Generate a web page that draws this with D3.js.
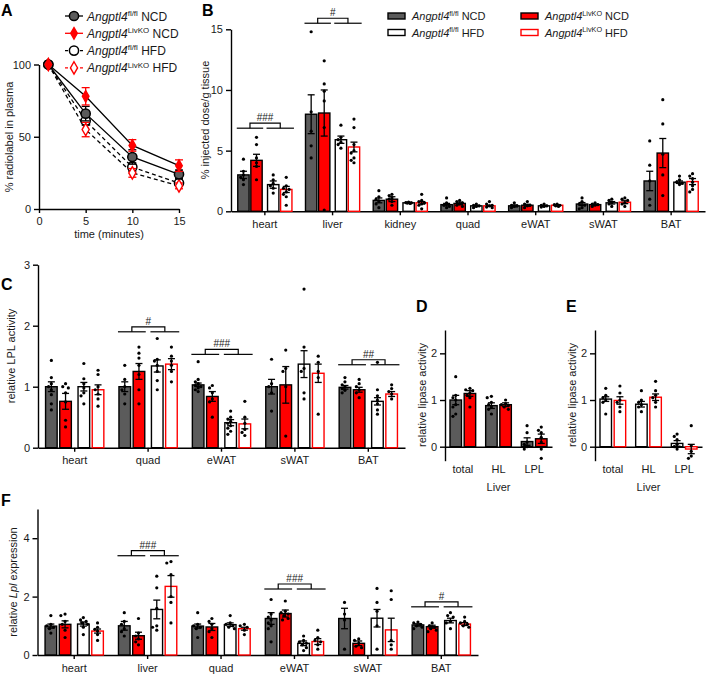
<!DOCTYPE html>
<html>
<head>
<meta charset="utf-8">
<script src="https://cdn.jsdelivr.net/npm/d3@7"></script>
<style>
body { margin: 0; background: #fff; }
</style>
</head>
<body>
<svg id="main" width="708" height="676"></svg>
<script>
const FONT = "Arial, 'Liberation Sans', Helvetica, sans-serif";
const GRAY = "#5b5b5b", RED = "#ff0000";

// ---- panel A: plasma clearance
const aTime = [1, 5, 10, 15];
const aFlNCD = [100, 66, 36, 24];
const aKoNCD = [100, 78, 44, 30];
const aFlHFD = [100, 61, 29, 18];
const aKoHFD = [100, 55, 25, 16];
const aSemFlNCD = [0, 5, 5, 3];
const aSemKoNCD = [0, 6, 4, 4];
const aSemFlHFD = [0, 3, 3, 2];
const aSemKoHFD = [0, 5, 3, 2];

// ---- panel B: tissue uptake (order in each row: fl NCD, KO NCD, fl HFD, KO HFD)
const bCats = ["heart", "liver", "kidney", "quad", "eWAT", "sWAT", "BAT"];
const bMean = [[3.0, 4.2, 2.2, 1.8], [8.0, 8.1, 5.9, 5.3], [0.9, 1.0, 0.7, 0.7], [0.55, 0.65, 0.45, 0.45],
               [0.45, 0.5, 0.45, 0.5], [0.6, 0.55, 0.7, 0.75], [2.5, 4.8, 2.4, 2.45]];
const bSem = [[0.3, 0.5, 0.3, 0.25], [1.6, 1.9, 0.3, 0.4], [0.2, 0.2, 0.05, 0.1], [0.1, 0.1, 0.05, 0.05],
              [0.08, 0.08, 0.05, 0.05], [0.12, 0.05, 0.1, 0.12], [0.8, 1.2, 0.1, 0.25]];
const bDots = [
  [[4.3, 3.3, 3.0, 2.8, 2.6, 2.2], [6.1, 5.5, 4.4, 4.0, 3.7, 2.6], [3.0, 2.6, 2.3, 2.1, 1.9, 1.5], [2.8, 2.1, 1.9, 1.8, 1.6, 1.4, 1.2, 0.5]],
  [[14.8, 8.2, 6.6, 5.4, 4.4], [12.4, 10.5, 9.9, 9.1, 6.9, 0.1], [7.1, 6.1, 5.9, 5.7, 5.5, 5.2], [7.6, 6.9, 5.5, 5.0, 4.8, 4.4, 4.2, 4.0]],
  [[1.7, 1.2, 1.0, 0.8, 0.6, 0.3], [1.4, 1.3, 1.1, 1.0, 0.8, 0.5], [0.75, 0.72, 0.7, 0.68, 0.65], [1.4, 0.9, 0.8, 0.7, 0.6, 0.5, 0.2]],
  [[1.1, 0.7, 0.5, 0.4, 0.3], [0.9, 0.8, 0.7, 0.6, 0.5, 0.4], [0.6, 0.5, 0.45, 0.4, 0.3], [0.8, 0.6, 0.5, 0.45, 0.35, 0.3]],
  [[0.7, 0.5, 0.45, 0.4, 0.3], [0.8, 0.6, 0.5, 0.45, 0.3], [0.6, 0.5, 0.45, 0.4, 0.35], [0.6, 0.55, 0.5, 0.45, 0.4]],
  [[1.1, 0.8, 0.6, 0.5, 0.3, 0.2], [0.7, 0.6, 0.55, 0.5, 0.4], [1.0, 0.9, 0.7, 0.6, 0.4], [1.1, 1.0, 0.9, 0.7, 0.6, 0.4]],
  [[5.8, 3.8, 2.5, 1.0, 0.5], [9.2, 7.2, 4.7, 3.0, 1.3], [2.9, 2.6, 2.4, 2.3, 2.2], [3.1, 2.9, 2.7, 2.4, 2.1, 1.8, 1.6]]
];
const bBrackets = [{cat: "heart", at: 6.85, label: "###"}, {cat: "liver", at: 15.5, label: "#"}];

// ---- panel C: LPL activity
const cCats = ["heart", "quad", "eWAT", "sWAT", "BAT"];
const cMean = [[1.0, 0.76, 1.0, 0.95], [1.0, 1.25, 1.34, 1.37], [1.03, 0.84, 0.41, 0.39], [1.0, 1.03, 1.37, 1.22], [0.99, 0.95, 0.76, 0.88]];
const cSem = [[0.08, 0.13, 0.07, 0.08], [0.08, 0.13, 0.1, 0.09], [0.03, 0.08, 0.05, 0.08], [0.12, 0.3, 0.22, 0.15], [0.03, 0.04, 0.06, 0.04]];
const cDots = [
  [[1.43, 1.15, 1.05, 1.0, 0.95, 0.87, 0.72, 0.62], [1.05, 1.0, 0.98, 0.9, 0.75, 0.45, 0.34], [1.38, 1.13, 1.05, 0.98, 0.9, 0.85, 0.72], [1.27, 1.2, 1.0, 0.95, 0.88, 0.8, 0.68]],
  [[1.35, 1.12, 1.0, 0.95, 0.88, 0.72], [1.65, 1.55, 1.47, 1.35, 1.2, 0.95, 0.72], [1.79, 1.45, 1.42, 1.35, 1.25, 1.1, 0.95], [1.65, 1.5, 1.42, 1.35, 1.25, 1.08]],
  [[1.41, 1.12, 1.08, 1.05, 1.02, 1.0, 0.98, 0.95, 0.92], [1.02, 0.98, 0.9, 0.8, 0.75, 0.5], [0.6, 0.5, 0.47, 0.43, 0.4, 0.36, 0.32, 0.27, 0.22], [0.76, 0.5, 0.4, 0.3, 0.25, 0.2]],
  [[1.45, 1.05, 1.0, 0.9, 0.6], [1.6, 1.3, 1.25, 1.0, 0.19], [2.6, 1.65, 1.3, 1.25, 0.9, 0.8], [1.5, 1.4, 1.25, 1.15, 0.55]],
  [[1.15, 1.08, 1.03, 1.0, 0.97, 0.94, 0.9], [1.12, 1.05, 1.0, 0.95, 0.9, 0.82], [1.4, 0.95, 0.85, 0.78, 0.72, 0.62, 0.55], [1.03, 0.97, 0.92, 0.88, 0.8]]
];
const cBrackets = [{cat: "quad", at: 1.9, label: "#"}, {cat: "eWAT", at: 1.53, label: "###"}, {cat: "BAT", at: 1.36, label: "##"}];

// ---- panels D / E: liver lipase activity
const deCats = ["total", "HL", "LPL"];
const dMean = [[1.0, 1.14], [0.88, 0.9], [0.11, 0.17]];
const dSem = [[0.1, 0.06], [0.06, 0.04], [0.08, 0.1]];
const dDots = [
  [[1.5, 1.1, 1.05, 1.0, 0.9, 0.85, 0.7, 0.65], [1.25, 1.22, 1.2, 1.15, 1.1, 1.05, 0.85]],
  [[1.08, 1.05, 0.95, 0.9, 0.85, 0.8, 0.7], [1.0, 0.92, 0.9, 0.88, 0.85, 0.8]],
  [[0.45, 0.3, 0.1, 0.05, 0.0, -0.05], [0.42, 0.35, 0.3, 0.2, 0.1, -0.05, -0.25]]
];
const eMean = [[1.02, 0.99], [0.91, 1.06], [0.07, -0.05]];
const eSem = [[0.05, 0.08], [0.06, 0.07], [0.06, 0.1]];
const eDots = [
  [[1.25, 1.1, 1.05, 1.0, 0.95, 0.7], [1.3, 1.15, 1.0, 0.95, 0.85, 0.75]],
  [[1.2, 1.0, 0.95, 0.9, 0.85, 0.75], [1.4, 1.2, 1.1, 1.05, 0.95, 0.85]],
  [[0.27, 0.22, 0.15, 0.05, 0.0, -0.05], [0.45, 0.02, -0.1, -0.2, -0.25]]
];

// ---- panel F: Lpl expression
const fCats = ["heart", "liver", "quad", "eWAT", "sWAT", "BAT"];
const fMean = [[0.99, 1.05, 1.06, 0.82], [1.0, 0.66, 1.56, 2.35], [0.99, 0.96, 1.04, 0.9],
               [1.25, 1.42, 0.4, 0.46], [1.25, 0.4, 1.26, 0.86], [1.03, 0.97, 1.18, 1.06]];
const fSem = [[0.07, 0.12, 0.07, 0.07], [0.15, 0.12, 0.32, 0.37], [0.07, 0.12, 0.06, 0.05],
              [0.2, 0.12, 0.08, 0.1], [0.35, 0.08, 0.3, 0.4], [0.04, 0.05, 0.08, 0.05]];
const fDots = [
  [[1.35, 1.05, 1.0, 0.95, 0.9, 0.75], [1.4, 1.35, 1.15, 1.05, 0.85, 0.6], [1.28, 1.2, 1.15, 1.1, 1.05, 0.95, 0.7], [1.1, 0.95, 0.88, 0.82, 0.7, 0.5]],
  [[1.45, 1.15, 1.05, 0.9, 0.8, 0.65], [1.25, 0.75, 0.65, 0.55, 0.45, 0.35], [2.7, 2.3, 1.6, 1.0, 0.95, 0.85], [3.2, 3.15, 2.75, 2.0, 1.8, 1.1]],
  [[1.45, 1.05, 1.0, 0.95, 0.9, 0.6], [1.25, 1.15, 1.05, 0.9, 0.8, 0.6], [1.35, 1.1, 1.05, 1.0, 0.95, 0.9], [1.05, 1.0, 0.95, 0.85, 0.7]],
  [[1.9, 1.4, 1.3, 1.2, 1.1, 1.0, 0.9, 0.45], [1.85, 1.5, 1.45, 1.4, 1.35, 1.25, 1.2], [0.65, 0.5, 0.45, 0.4, 0.35, 0.25, 0.15], [0.85, 0.6, 0.5, 0.45, 0.35, 0.2]],
  [[1.8, 1.4, 1.2, 0.2], [0.55, 0.5, 0.4, 0.3, 0.25], [2.28, 1.8, 1.5, 1.0, 0.2], [2.2, 1.9, 0.5, 0.35, 0.2]],
  [[1.13, 1.1, 1.05, 1.0, 0.95, 0.9], [1.1, 1.0, 0.95, 0.9, 0.85, 0.8], [1.45, 1.35, 1.3, 1.15, 1.1, 0.9], [1.3, 1.15, 1.1, 1.05, 1.0, 0.95]]
];
const fBrackets = [{cat: "liver", at: 3.4, label: "###"}, {cat: "eWAT", at: 2.26, label: "###"}, {cat: "BAT", at: 1.65, label: "#"}];

const seriesStyle = {
  flNCD: {diet: "NCD", geno: "fl", fill: GRAY, stroke: "#000", sup: "fl/fl"},
  koNCD: {diet: "NCD", geno: "ko", fill: RED, stroke: "#000", sup: "LivKO"},
  flHFD: {diet: "HFD", geno: "fl", fill: "#fff", stroke: "#000", sup: "fl/fl"},
  koHFD: {diet: "HFD", geno: "ko", fill: "#fff", stroke: RED, sup: "LivKO"}
};

const svg = d3.select("#main").attr("font-family", FONT);
const intFmt = d3.format("d");

function styleAxis(g) {
  g.attr("font-family", FONT).attr("font-size", 11);
  g.selectAll(".domain, .tick line").attr("stroke", "#000").attr("stroke-width", 1.4);
  g.selectAll("text").attr("fill", "#1a1a1a");
}

function panelLetter(t, x, y) {
  svg.append("text").attr("x", x).attr("y", y).attr("font-size", 16).attr("font-weight", "bold").text(t);
}

function yTitle(x, cy, build) {
  const t = svg.append("text").attr("transform", `translate(${x},${cy}) rotate(-90)`)
    .attr("text-anchor", "middle").attr("font-size", 11).attr("fill", "#1a1a1a");
  build(t);
}

function genoLabel(t, sup, diet, fs) {
  t.append("tspan").attr("font-style", "italic").text("Angptl4");
  t.append("tspan").attr("font-size", fs * 0.66).attr("dy", -fs * 0.4).text(sup);
  t.append("tspan").attr("dy", fs * 0.4).text("\u00a0" + diet);
}

// spreads the dots of one bar sideways so that they overlap less
function swarm(vals, y, maxOff) {
  const placed = [];
  const cands = [0, -2.8, 2.8, -1.4, 1.4, -4.2, 4.2].filter(c => Math.abs(c) <= maxOff);
  return vals.map(v => {
    const py = y(v);
    let best = 0, bestD = -1;
    for (const c of cands) {
      const d = placed.length ? d3.min(placed, p => Math.hypot(p[0] - c, p[1] - py)) : Infinity;
      if (d >= 3.3) { best = c; break; }
      if (d > bestD) { bestD = d; best = c; }
    }
    placed.push([best, py]);
    return best;
  });
}

function barPanel(o) {
  const g = svg.append("g");
  const y = d3.scaleLinear().domain(o.yDomain).range(o.yRange);
  const x = d3.scaleBand().domain(o.cats).range(o.xRange).paddingInner(o.pad).paddingOuter(o.pad / 2);
  const diets = [...new Set(o.series.map(s => seriesStyle[s].diet))];
  const xDiet = d3.scaleBand().domain(diets).range([0, x.bandwidth()]).paddingInner(o.padDiet);
  const xGeno = d3.scaleBand().domain(["fl", "ko"]).range([0, xDiet.bandwidth()]).paddingInner(o.padGeno);
  const bw = xGeno.bandwidth();
  const y0 = y(0);

  const xAxis = d3.axisBottom(x).tickSize(o.xTick).tickSizeOuter(0).tickPadding(o.xPad);
  g.append("g").attr("transform", `translate(0,${y0})`).call(xAxis).call(styleAxis);
  g.append("g").attr("transform", `translate(${o.xRange[0]},0)`)
    .call(d3.axisLeft(y).tickValues(o.yTicks).tickFormat(intFmt).tickSize(5).tickSizeOuter(0).tickPadding(3))
    .call(styleAxis);

  o.cats.forEach((c, i) => {
    o.series.forEach((s, j) => {
      const st = seriesStyle[s];
      const bx = x(c) + xDiet(st.diet) + xGeno(st.geno);
      const cx = bx + bw / 2;
      const m = o.mean[i][j], e = o.sem[i][j];
      g.append("rect")
        .attr("x", bx).attr("y", y(Math.max(0, m)))
        .attr("width", bw).attr("height", Math.abs(y(m) - y0))
        .attr("fill", st.fill).attr("stroke", st.stroke).attr("stroke-width", 1.4);
      const vals = o.dots[i][j];
      const offs = swarm(vals, y, bw / 2 - 1.5);
      g.selectAll(null).data(vals).join("circle")
        .attr("cx", (d, k) => cx + offs[k]).attr("cy", d => y(d))
        .attr("r", 1.6).attr("fill", "#000");
      const cap = 3.5;
      const eb = g.append("g").attr("stroke", "#000").attr("stroke-width", 1.3);
      eb.append("line").attr("x1", cx).attr("x2", cx).attr("y1", y(m - e)).attr("y2", y(m + e));
      [m - e, m + e].forEach(v => eb.append("line")
        .attr("x1", cx - cap).attr("x2", cx + cap).attr("y1", y(v)).attr("y2", y(v)));
    });
  });

  (o.brackets || []).forEach(b => {
    const yl = y(b.at);
    const db = xDiet.bandwidth();
    const lx0 = x(b.cat) + xDiet("NCD") - 1, lx1 = lx0 + db + 2;
    const rx0 = x(b.cat) + xDiet("HFD") - 1, rx1 = rx0 + db + 3;
    const bg = g.append("g").attr("stroke", "#000").attr("stroke-width", 1.2).attr("fill", "none");
    bg.append("line").attr("x1", lx0).attr("x2", lx1).attr("y1", yl).attr("y2", yl);
    bg.append("line").attr("x1", rx0).attr("x2", rx1).attr("y1", yl).attr("y2", yl);
    const cl = (lx0 + lx1) / 2, cr = (rx0 + rx1) / 2;
    bg.append("path").attr("d", `M${cl},${yl}V${yl - 5}H${cr}V${yl}`);
    g.append("text").attr("x", (cl + cr) / 2).attr("y", yl - 7)
      .attr("text-anchor", "middle").attr("font-size", 10).attr("fill", "#1a1a1a").text(b.label);
  });
  return {x, y};
}

// ================= A =================
panelLetter("A", 1, 16);
const xA = d3.scaleLinear().domain([0, 15]).range([39, 179]);
const yA = d3.scaleLinear().domain([0, 100]).range([209, 64.5]);
svg.append("g").attr("transform", "translate(0,209)")
  .call(d3.axisBottom(xA).tickValues([0, 5, 10, 15]).tickFormat(intFmt).tickSize(4).tickSizeOuter(0).tickPadding(4))
  .call(styleAxis);
svg.append("g").attr("transform", "translate(39,0)")
  .call(d3.axisLeft(yA).tickValues([0, 50, 100]).tickFormat(intFmt).tickSize(5).tickSizeOuter(0).tickPadding(3))
  .call(styleAxis);
svg.append("text").attr("x", 109).attr("y", 238).attr("text-anchor", "middle")
  .attr("font-size", 11).attr("fill", "#1a1a1a").text("time (minutes)");
yTitle(13, 137, t => t.text("% radiolabel in plasma"));

const aSeries = [
  {key: "flHFD", v: aFlHFD, e: aSemFlHFD, dash: "4,3", col: "#000", mFill: "#fff", shape: "circle"},
  {key: "koHFD", v: aKoHFD, e: aSemKoHFD, dash: "4,3", col: RED, mFill: "#fff", shape: "diamond"},
  {key: "flNCD", v: aFlNCD, e: aSemFlNCD, dash: null, col: "#000", mFill: GRAY, shape: "circle"},
  {key: "koNCD", v: aKoNCD, e: aSemKoNCD, dash: null, col: RED, mFill: RED, shape: "diamond"}
];
const lineA = d3.line().x(d => xA(d[0])).y(d => yA(d[1]));
function marker(g, s, cx, cy) {
  if (s.shape === "circle") {
    g.append("circle").attr("cx", cx).attr("cy", cy).attr("r", 4.6)
      .attr("fill", s.mFill).attr("stroke", s.col).attr("stroke-width", 1.5);
  } else {
    g.append("path").attr("d", d3.symbol(d3.symbolDiamond, s.mFill === RED ? 38 : 44)())
      .attr("transform", `translate(${cx},${cy})`)
      .attr("fill", s.mFill).attr("stroke", s.col).attr("stroke-width", 1.4);
  }
}
aSeries.forEach(s => {
  svg.append("path").datum(aTime.map((t, i) => [t, s.v[i]])).attr("d", lineA)
    .attr("fill", "none").attr("stroke", "#000").attr("stroke-width", 1.3)
    .attr("stroke-dasharray", s.dash);
});
aSeries.forEach(s => {
  const g = svg.append("g");
  aTime.forEach((t, i) => {
    if (!s.e[i]) return;
    const cx = xA(t);
    const eb = g.append("g").attr("stroke", s.col).attr("stroke-width", 1.3);
    eb.append("line").attr("x1", cx).attr("x2", cx).attr("y1", yA(s.v[i] - s.e[i])).attr("y2", yA(s.v[i] + s.e[i]));
    [s.v[i] - s.e[i], s.v[i] + s.e[i]].forEach(v => eb.append("line")
      .attr("x1", cx - 4).attr("x2", cx + 4).attr("y1", yA(v)).attr("y2", yA(v)));
  });
  aTime.forEach((t, i) => marker(g, s, xA(t), yA(s.v[i])));
});
// legend A
const aLegendOrder = ["flNCD", "koNCD", "flHFD", "koHFD"];
aLegendOrder.forEach((k, i) => {
  const s = aSeries.find(d => d.key === k);
  const ly = 16 + i * 17.3;
  const lg = svg.append("g");
  lg.append("line").attr("x1", 65).attr("x2", 83).attr("y1", ly).attr("y2", ly)
    .attr("stroke", s.col).attr("stroke-width", 1.3).attr("stroke-dasharray", s.dash ? "3,2" : null);
  marker(lg, s, 74, ly);
  const t = lg.append("text").attr("x", 87).attr("y", ly + 4.5).attr("font-size", 12).attr("fill", "#1a1a1a");
  genoLabel(t, seriesStyle[k].sup, seriesStyle[k].diet, 12);
});

// ================= B =================
panelLetter("B", 202, 16);
barPanel({
  cats: bCats, series: ["flNCD", "koNCD", "flHFD", "koHFD"], mean: bMean, sem: bSem, dots: bDots,
  xRange: [231, 705], pad: 0.2, padDiet: 0.18, padGeno: 0.13,
  yDomain: [0, 15], yRange: [211.3, 29.3], yTicks: [0, 5, 10, 15],
  xTick: 4, xPad: 5, brackets: bBrackets
});
yTitle(209, 120, t => t.text("% injected dose/g tissue"));
[["flNCD", 388, 16], ["flHFD", 388, 32.5], ["koNCD", 521, 16], ["koHFD", 521, 32.5]].forEach(([k, lx, ly]) => {
  const st = seriesStyle[k];
  svg.append("rect").attr("x", lx).attr("y", ly - 3).attr("width", 17).attr("height", 6)
    .attr("fill", st.fill).attr("stroke", st.stroke).attr("stroke-width", 1.4);
  const t = svg.append("text").attr("x", lx + 24).attr("y", ly + 4).attr("font-size", 11).attr("fill", "#1a1a1a");
  genoLabel(t, st.sup, st.diet, 11);
});

// ================= C =================
panelLetter("C", 1, 290);
barPanel({
  cats: cCats, series: ["flNCD", "koNCD", "flHFD", "koHFD"], mean: cMean, sem: cSem, dots: cDots,
  xRange: [38, 405], pad: 0.206, padDiet: 0.206, padGeno: 0.183,
  yDomain: [0, 3], yRange: [447.7, 264.7], yTicks: [0, 1, 2, 3],
  xTick: 4, xPad: 5, brackets: cBrackets
});
yTitle(15, 356, t => t.text("relative LPL activity"));

// ================= D =================
panelLetter("D", 416, 312);
const dScales = barPanel({
  cats: deCats, series: ["flNCD", "koNCD"], mean: dMean, sem: dSem, dots: dDots,
  xRange: [445, 552], pad: 0.28, padDiet: 0, padGeno: 0.19,
  yDomain: [-0.3, 2.5], yRange: [460.7, 330], yTicks: [0, 1, 2],
  xTick: 0, xPad: 19
});
svg.append("text").attr("x", dScales.x("HL") + dScales.x.bandwidth() / 2).attr("y", 491)
  .attr("text-anchor", "middle").attr("font-size", 11).attr("fill", "#1a1a1a").text("Liver");
yTitle(426, 395, t => t.text("relative lipase activity"));

// ================= E =================
panelLetter("E", 566, 312);
const eScales = barPanel({
  cats: deCats, series: ["flHFD", "koHFD"], mean: eMean, sem: eSem, dots: eDots,
  xRange: [595, 702], pad: 0.28, padDiet: 0, padGeno: 0.19,
  yDomain: [-0.3, 2.5], yRange: [460.7, 330], yTicks: [0, 1, 2],
  xTick: 0, xPad: 19
});
svg.append("text").attr("x", eScales.x("HL") + eScales.x.bandwidth() / 2).attr("y", 491)
  .attr("text-anchor", "middle").attr("font-size", 11).attr("fill", "#1a1a1a").text("Liver");
yTitle(576, 395, t => t.text("relative lipase activity"));

// ================= F =================
panelLetter("F", 1, 506);
barPanel({
  cats: fCats, series: ["flNCD", "koNCD", "flHFD", "koHFD"], mean: fMean, sem: fSem, dots: fDots,
  xRange: [37.5, 478], pad: 0.206, padDiet: 0.206, padGeno: 0.183,
  yDomain: [0, 5], yRange: [655, 509], yTicks: [0, 2, 4],
  xTick: 4, xPad: 5, brackets: fBrackets
});
yTitle(17, 582, t => {
  t.append("tspan").text("relative\u00a0");
  t.append("tspan").attr("font-style", "italic").text("Lpl");
  t.append("tspan").text("\u00a0expression");
});
</script>
</body>
</html>
